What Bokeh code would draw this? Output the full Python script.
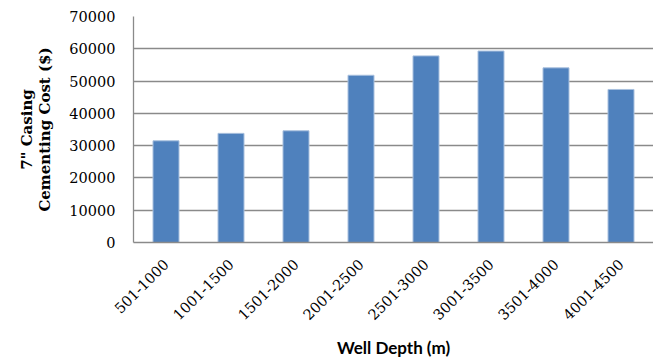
import math
from bokeh.plotting import figure
from bokeh.models import FactorRange, Range1d, FixedTicker
from bokeh.embed import file_html
from bokeh.resources import INLINE

# Cementing cost of 7" casing by well depth band
depth_bands = ["501-1000", "1001-1500", "1501-2000", "2001-2500",
               "2501-3000", "3001-3500", "3501-4000", "4001-4500"]
cost_usd = [31500, 33800, 34600, 51800, 57800, 59300, 54100, 47400]
y_ticks = [0, 10000, 20000, 30000, 40000, 50000, 60000, 70000]

p = figure(width=653, height=360, output_backend="svg", toolbar_location=None,
           x_range=FactorRange(factors=depth_bands, range_padding=0),
           y_range=Range1d(0, 70000),
           min_border_left=133, min_border_right=0, min_border_top=16,
           min_border_bottom=0)

p.vbar(x=depth_bands, top=cost_usd, width=0.4,
       fill_color="#4F81BD", line_color="#a9c0de", line_width=1)

p.outline_line_color = None
p.background_fill_color = "white"
p.border_fill_color = "white"

# grid
p.xgrid.grid_line_color = None
p.ygrid.grid_line_color = "#8a8a8a"
p.ygrid.grid_line_width = 1.3

serif = "DejaVu Serif"

# y axis
p.yaxis.ticker = FixedTicker(ticks=y_ticks)
p.yaxis.axis_label = '7" Casing\nCementing Cost ($)'
p.yaxis.axis_label_text_font = serif
p.yaxis.axis_label_text_font_style = "bold"
p.yaxis.axis_label_text_font_size = "15px"
p.yaxis.axis_label_text_align = "center"
p.yaxis.axis_label_text_line_height = 1.0
p.yaxis.axis_label_text_color = "black"
p.yaxis.axis_label_standoff = 12
p.yaxis.major_label_text_font = serif
p.yaxis.major_label_text_font_size = "14.5px"
p.yaxis.major_label_text_color = "black"
p.yaxis.major_label_standoff = 18
p.yaxis.major_tick_out = 0
p.yaxis.major_tick_in = 0
p.yaxis.minor_tick_out = 0
p.yaxis.minor_tick_in = 0
p.yaxis.axis_line_color = "#8a8a8a"
p.yaxis.axis_line_width = 1.3

# x axis
p.xaxis.axis_label = "Well Depth (m)"
p.xaxis.axis_label_text_font = "Lato"
p.xaxis.axis_label_text_font_style = "bold"
p.xaxis.axis_label_text_font_size = "17px"
p.xaxis.axis_label_text_color = "black"
p.xaxis.axis_label_standoff = 9
p.xaxis.major_label_orientation = math.pi / 4
p.xaxis.major_label_text_font = serif
p.xaxis.major_label_text_font_size = "14.5px"
p.xaxis.major_label_text_color = "black"
p.xaxis.major_label_standoff = 19
p.xaxis.major_tick_out = 0
p.xaxis.major_tick_in = 0
p.xaxis.axis_line_color = "#8a8a8a"
p.xaxis.axis_line_width = 1.3

open("out.html", "w").write(file_html(p, INLINE))
